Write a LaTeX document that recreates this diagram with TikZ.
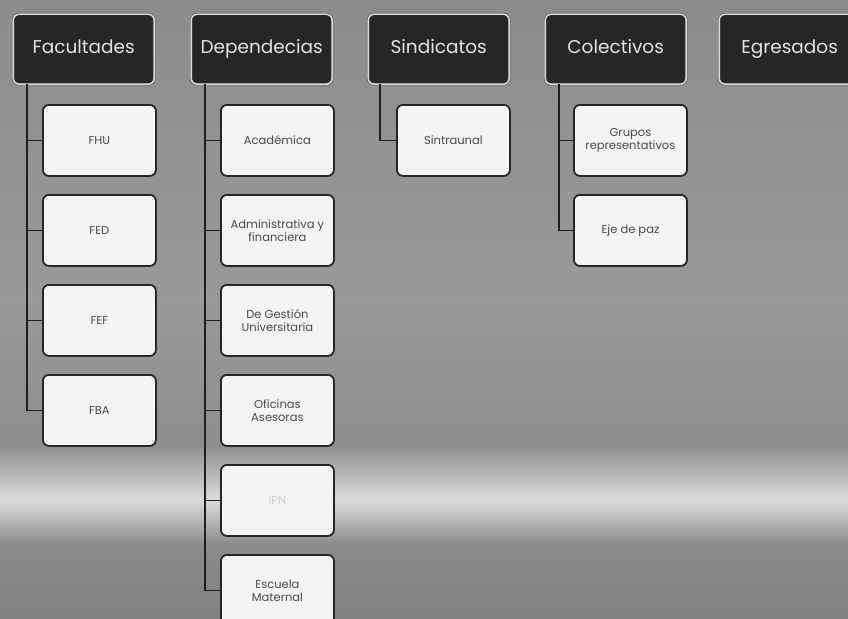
\documentclass[tikz,border=0pt]{standalone}
\usepackage{fontspec}
\setmainfont{Poppins}
\definecolor{hdrfill}{HTML}{262626}
\definecolor{hdrline}{HTML}{DADADA}
\definecolor{boxfill}{HTML}{F4F4F4}
\definecolor{boxline}{HTML}{262626}
\definecolor{boxtext}{HTML}{4A4A4A}
\definecolor{conncol}{HTML}{1E1E1E}
\definecolor{bgA}{HTML}{8C8C8C}
\definecolor{bgB}{HTML}{999999}
\definecolor{bgC}{HTML}{8E8E8E}
\definecolor{bgD}{HTML}{DCDCDC}
\definecolor{bgE}{HTML}{8A8A8A}
\definecolor{bgF}{HTML}{828282}
\tikzset{
  hdr/.style={anchor=north west, minimum width=141pt, minimum height=70pt,
    fill=hdrfill, draw=black!80, double=hdrline, double distance=1.6pt,
    rounded corners=6pt, text=white!90!black, font=\fontsize{18.5}{20}\selectfont,
    text height=13pt, text depth=4pt, inner sep=0pt},
  child/.style={anchor=north west, minimum width=113pt, minimum height=71pt,
    fill=boxfill, draw=boxline, line width=1.8pt, rounded corners=6pt,
    text=boxtext, font=\fontsize{11.5}{13}\selectfont, align=center, inner sep=1pt},
  conn/.style={draw=conncol, line width=1.8pt},
}
\begin{document}
\begin{tikzpicture}[x=1pt,y=-1pt]
\useasboundingbox (0,0) rectangle (848,618);
\clip (0,0) rectangle (848,618);
% background
\shade[top color=bgA, bottom color=bgB] (0,0) rectangle (848,300);
\shade[top color=bgB, bottom color=bgC] (0,300) rectangle (848,445);
\shade[top color=bgC, bottom color=bgD] (0,445) rectangle (848,500);
\shade[top color=bgD, bottom color=bgE] (0,500) rectangle (848,545);
\shade[top color=bgE, bottom color=bgF] (0,545) rectangle (848,618);

% headers
\node[hdr] (fac) at (13,14) {Facultades};
\node[hdr] (dep) at (191,14) {Dependecias};
\node[hdr] (sin) at (368,14) {Sindicatos};
\node[hdr] (col) at (545,14) {Colectivos};
\node[hdr] (egr) at (719,14) {Egresados};

% Facultades children
\node[child] (f1) at (42,104) {FHU};
\node[child] (f2) at (42,194) {FED};
\node[child] (f3) at (42,284) {FEF};
\node[child] (f4) at (42,374) {FBA};

% Dependencias children
\node[child] (d1) at (220,104) {Académica};
\node[child] (d2) at (220,194) {Administrativa y\\financiera};
\node[child] (d3) at (220,284) {De Gestión\\Universitaria};
\node[child] (d4) at (220,374) {Oficinas\\Asesoras};
\node[child, text=white!80!black] (d5) at (220,464) {IPN};
\node[child] (d6) at (220,554) {Escuela\\Maternal};

% Sindicatos child
\node[child] (s1) at (396,104) {Sintraunal};

% Colectivos children
\node[child] (c1) at (573,104) {Grupos\\representativos};
\node[child] (c2) at (573,194) {Eje de paz};

% connectors
\coordinate (ft) at ([xshift=14pt]fac.south west);
\coordinate (dt) at ([xshift=14pt]dep.south west);
\coordinate (st) at ([xshift=12pt]sin.south west);
\coordinate (ct) at ([xshift=14pt]col.south west);

\draw[conn] (ft) |- (f4.west);
\foreach \n in {f1,f2,f3} \draw[conn] (ft |- \n.west) -- (\n.west);
\draw[conn] (dt) |- (d6.west);
\foreach \n in {d1,d2,d3,d4,d5} \draw[conn] (dt |- \n.west) -- (\n.west);
\draw[conn] (st) |- (s1.west);
\draw[conn] (ct) |- (c2.west);
\draw[conn] (ct |- c1.west) -- (c1.west);
\end{tikzpicture}
\end{document}
